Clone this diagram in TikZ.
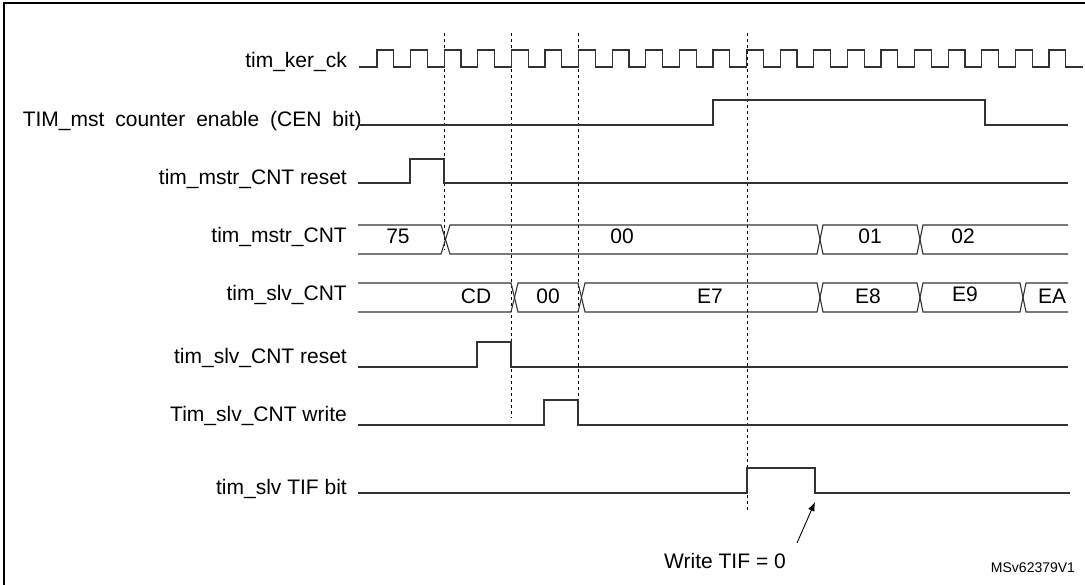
\documentclass[tikz,border=0pt]{standalone}
\usepackage{fontspec}
\setmainfont{Liberation Sans}
\usetikzlibrary{arrows.meta}
\begin{document}
\begin{tikzpicture}[x=1pt,y=-1pt,
  sig/.style={line width=1.1pt,black!80},
  dsh/.style={dashed,line width=0.7pt},
  lab/.style={anchor=east,inner sep=0pt,font=\fontsize{21}{24}\selectfont},
  val/.style={inner sep=0pt,font=\fontsize{21}{24}\selectfont}]
\useasboundingbox (0,0) rectangle (1085,585);
\draw[line width=1.6pt] (4,590) -- (4,3) -- (1090,3);
% labels
\node[lab] (l1) at (347,62) {tim\_ker\_ck};
\node[lab] (l2) at (347,121) {\makebox[324pt][s]{TIM\_mst\,\, counter\,\, enable\,\, (CEN\,\, bit)}};
\node[lab] (l3) at (347,179) {tim\_mstr\_CNT reset};
\node[lab] (l4) at (347,237) {tim\_mstr\_CNT};
\node[lab] (l5) at (347,295) {tim\_slv\_CNT};
\node[lab] (l6) at (347,358) {tim\_slv\_CNT reset};
\node[lab] (l7) at (347,416) {Tim\_slv\_CNT write};
\node[lab] (l8) at (347,489) {tim\_slv TIF bit};
% dashed
\draw[dsh] (444,33) -- (444,250);
\draw[dsh] (511,33) -- (511,418);
\draw[dsh] (578,33) -- (578,416);
\draw[dsh] (747,33) -- (747,512);
% clock
\draw[sig] (359,67) -- (377,67)
  \foreach \k in {0,...,20} { -- ({377+33.6*\k},50) -- ({393.8+33.6*\k},50) -- ({393.8+33.6*\k},67) -- ({410.6+33.6*\k},67) } ;
% CEN
\draw[sig] (358,125) -- (713,125) -- (713,100) -- (985,100) -- (985,125) -- (1068,125);
% mstr reset
\draw[sig] (358,183) -- (410,183) -- (410,159) -- (444,159) -- (444,183) -- (1068,183);
% mstr bus
\draw[sig] (358,225) -- (441,225) -- (450,254) -- (817,254) -- (823,225) -- (917,225) -- (923,254) -- (1068,254);
\draw[sig] (358,254) -- (441,254) -- (450,225) -- (817,225) -- (823,254) -- (917,254) -- (923,225) -- (1068,225);
\node[val] (v75) at (398,236) {75};
\node[val] (v00) at (622,236) {00};
\node[val] (v01) at (870,236) {01};
\node[val] (v02) at (963,236) {02};
% slv bus
\draw[sig] (358,283) -- (511,283) -- (518,312) -- (578,312) -- (585,283) -- (817,283) -- (823,312) -- (917,312) -- (923,283) -- (1020,283) -- (1026,312) -- (1068,312);
\draw[sig] (358,312) -- (511,312) -- (518,283) -- (578,283) -- (585,312) -- (817,312) -- (823,283) -- (917,283) -- (923,312) -- (1020,312) -- (1026,283) -- (1068,283);
\node[val] (vcd) at (476,296) {CD};
\node[val] (vs0) at (548,296) {00};
\node[val] (ve7) at (710,296) {E7};
\node[val] (ve8) at (868,296) {E8};
\node[val] (ve9) at (965,294) {E9};
\node[val] (vea) at (1052,296) {EA};
% slv reset
\draw[sig] (358,367) -- (477,367) -- (477,342) -- (511,342) -- (511,367) -- (1068,367);
% write
\draw[sig] (358,425) -- (544,425) -- (544,400) -- (578,400) -- (578,425) -- (1068,425);
% TIF
\draw[sig] (358,493) -- (747,493) -- (747,468) -- (815,468) -- (815,493) -- (1070,493);
\node[val] (wt) at (725,561) {Write TIF = 0};
\coordinate (tip) at (815,502);
\draw[line width=0.9pt,-{Latex[length=9pt,width=7pt]}] (797,543) -- (tip);
\node[inner sep=0pt,font=\fontsize{14}{16}\selectfont] (ms) at (1033,568) {MSv62379V1};
\end{tikzpicture}
\end{document}
